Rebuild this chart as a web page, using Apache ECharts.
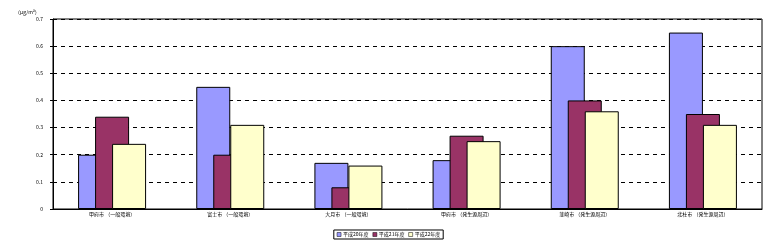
<!DOCTYPE html>
<html>
<head>
<meta charset="utf-8">
<script src="https://cdn.jsdelivr.net/npm/echarts@6/dist/echarts.min.js"></script>
<style>html,body{margin:0;padding:0;background:#fff}#c{width:777px;height:251px}</style>
</head>
<body>
<div id="c"></div>
<script>
const categories = ['甲府市 （一般環境）', '富士市 （一般環境）', '大月市 （一般環境）', '甲府市 （発生源周辺）', '韮崎市 （発生源周辺）', '北杜市 （発生源周辺）'];
const seriesNames = ['平成20年度', '平成21年度', '平成22年度'];
const s1 = [0.20, 0.45, 0.17, 0.18, 0.60, 0.65];
const s2 = [0.34, 0.20, 0.08, 0.27, 0.40, 0.35];
const s3 = [0.24, 0.31, 0.16, 0.25, 0.36, 0.31];
const yTicks = [0, 0.1, 0.2, 0.3, 0.4, 0.5, 0.6, 0.7];
const unitLabel = '（μg/m³）';
const colors = ['#9999FF', '#993366', '#FFFFCC'];
const font = '"Noto Sans CJK JP", sans-serif';

const chart = echarts.init(document.getElementById('c'));
const mk = (name, data, color) => ({
  name, type: 'bar', data, barWidth: 34, barGap: '-50%',
  itemStyle: { color, borderColor: '#000', borderWidth: 1 },
  emphasis: { disabled: true }
});
chart.setOption({
  animation: false,
  grid: { left: 53, top: 19, right: 15, bottom: 42, show: true, borderColor: '#000', borderWidth: 1, backgroundColor: '#fff' },
  xAxis: {
    type: 'category', data: categories,
    axisLine: { lineStyle: { color: '#000', width: 1 } },
    axisTick: { show: false },
    axisLabel: { fontSize: 5, color: '#000', fontFamily: font, margin: 3, interval: 0 }
  },
  yAxis: {
    type: 'value', min: 0, max: 0.7, interval: 0.1,
    axisLine: { show: true, lineStyle: { color: '#000', width: 1 } },
    axisTick: { show: true, length: 3, inside: false, lineStyle: { color: '#000' } },
    axisLabel: { fontSize: 5, color: '#000', fontFamily: font, margin: 10,
      formatter: v => { const t = yTicks.find(x => Math.abs(x - v) < 1e-9); return t === 0 ? '0' : t.toFixed(1); } },
    splitLine: { show: true, lineStyle: { color: '#000', type: [4, 4], width: 1 } }
  },
  graphic: [{ type: 'text', left: 15, top: 10, style: { text: unitLabel, fontSize: 5, fill: '#000', fontFamily: font } }],
  legend: {
    bottom: 12, left: 'center', data: seriesNames,
    itemWidth: 4, itemHeight: 4, itemGap: 4,
    icon: 'rect',
    itemStyle: { borderWidth: 0.5, borderColor: '#000' },
    borderColor: '#000', borderWidth: 1, padding: [2, 3],
    textStyle: { fontSize: 5, color: '#000', fontFamily: font, padding: [0, 0, 0, -3] }
  },
  series: [mk(seriesNames[0], s1, colors[0]), mk(seriesNames[1], s2, colors[1]), mk(seriesNames[2], s3, colors[2])]
});
</script>
</body>
</html>
